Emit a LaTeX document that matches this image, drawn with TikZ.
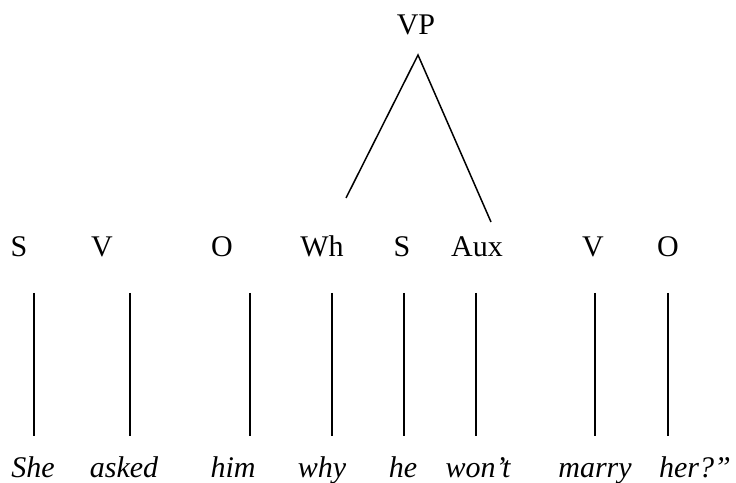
\documentclass[tikz,border=0pt]{standalone}
\usepackage{fontspec}
\setmainfont{Liberation Serif}
\begin{document}
\begin{tikzpicture}[x=1pt,y=1pt,
  lbl/.style={anchor=base,inner sep=0pt,font=\fontsize{30}{36}\selectfont},
  word/.style={lbl,font=\fontsize{30}{36}\selectfont\itshape},
  link/.style={line width=1.5pt}]
\useasboundingbox (0,0) rectangle (736,482);
% phrase label and its branches
\node[lbl] (vp) at (416,447) {VP};
\coordinate (apex) at (418,427);
\coordinate (vpl) at (346,284);
\coordinate (vpr) at (491,260);
\draw[link] (vpl) -- (apex) -- (vpr);
% constituent labels
\node[lbl] (c1) at (19,225) {S};
\node[lbl] (c2) at (102,225) {V};
\node[lbl] (c3) at (222,225) {O};
\node[lbl] (c4) at (322,225) {Wh};
\node[lbl] (c5) at (402,225) {S};
\node[lbl] (c6) at (477,225) {Aux};
\node[lbl] (c7) at (593,225) {V};
\node[lbl] (c8) at (668,225) {O};
% words of the sentence
\node[word] (w1) at (33,5) {She};
\node[word] (w2) at (124,5) {asked};
\node[word] (w3) at (233,5) {him};
\node[word] (w4) at (322,5) {why};
\node[word] (w5) at (403,5) {he};
\node[word] (w6) at (478,5) {won’t};
\node[word] (w7) at (595,5) {marry};
\node[word] (w8) at (695,5) {her?”};
% vertical association lines
\foreach \i/\x in {1/34,2/130,3/250,4/332,5/404,6/476,7/595,8/668}{
  \coordinate (t\i) at (\x,189);
  \coordinate (b\i) at (\x,46);
  \draw[link] (t\i) -- (b\i);
}
\end{tikzpicture}
\end{document}
